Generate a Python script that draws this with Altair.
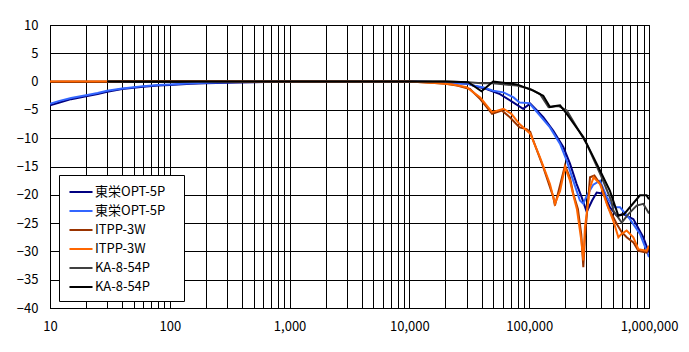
import altair as alt
import pandas as pd

# ---- data ----
SERIES = ["東栄OPT-5P#1", "東栄OPT-5P#2", "ITPP-3W#1", "ITPP-3W#2", "KA-8-54P#1", "KA-8-54P#2"]
COLORS = ["#000080", "#3366FF", "#993300", "#FF6600", "#404040", "#000000"]

F_OPT1 = [10, 12, 15, 20, 25, 30, 40, 50, 60, 80, 100, 150, 200, 300, 500, 1000, 2000, 5000, 10000,
          20000, 25000, 31000, 34000, 44000, 57000, 74000, 89000, 102000, 115000, 131000, 159000,
          193000, 219000, 249000, 275000, 302000, 335000, 366000, 416000, 472000, 537000, 611000,
          741000, 895000, 986000, 1000000]
V_OPT1 = [-4.2, -3.7, -3.1, -2.6, -2.2, -1.8, -1.3, -1.1, -0.9, -0.7, -0.6, -0.4, -0.3, -0.2, -0.1, 0, 0, 0, 0,
          -0.1, -0.3, -0.4, -0.7, -1.3, -2.2, -3.7, -4.8, -3.9, -5.0, -6.3, -8.7,
          -11.6, -14.5, -18.1, -20.5, -23.0, -21.0, -19.6, -19.8, -22.2, -23.7, -23.4,
          -24.3, -27.5, -29.9, -30.2]

F_OPT2 = [10, 12, 15, 20, 25, 30, 40, 50, 60, 80, 100, 150, 200, 300, 500, 1000, 2000, 5000, 10000,
          20000, 25000, 31000, 34000, 41000, 50000, 61000, 74000, 83000, 100000, 110000, 123000, 149000,
          181000, 206000, 233000, 265000, 283000, 300000, 343000, 390000, 444000, 504000, 573000,
          693000, 841000, 1000000]
V_OPT2 = [-3.9, -3.4, -2.9, -2.4, -2.0, -1.6, -1.2, -1.0, -0.8, -0.6, -0.5, -0.3, -0.2, -0.1, 0, 0, 0, 0, 0,
          -0.1, -0.3, -0.4, -0.7, -1.0, -1.6, -1.9, -2.8, -3.7, -3.8, -4.8, -6.0, -8.1,
          -11.0, -14.0, -17.5, -21.0, -21.6, -20.3, -18.2, -17.5, -20.4, -22.2, -22.2,
          -24.3, -26.9, -31.0]

F_ITPP1 = [10, 20, 30, 50, 100, 200, 500, 1000, 5000, 10000, 15000, 20000, 25000, 32000, 39000, 49000,
           59000, 69000, 83000, 95000, 102000, 108000, 131000, 159000, 164000, 199000, 219000, 233000,
           255000, 272000, 283000, 292000, 310000, 322000, 350000, 400000, 457000, 537000, 592000,
           651000, 740000, 815000, 955000, 1000000]
V_ITPP1 = [0, 0, 0, 0.1, 0.1, 0.1, 0, 0, 0, 0, -0.2, -0.4, -0.7, -1.3, -3.1, -5.7,
           -5.1, -6.3, -8.1, -8.4, -8.9, -10.4, -15.1, -20.4, -21.9, -14.8, -17.0, -19.8,
           -22.5, -27.0, -32.8, -27.5, -21.0, -16.9, -16.6, -18.4, -22.2, -25.1, -26.6,
           -27.5, -28.4, -29.9, -30.2, -29.3]

F_ITPP2 = [10, 20, 30, 50, 100, 200, 500, 1000, 5000, 10000, 15000, 18000, 23000, 30000, 39000, 49000,
           61000, 71000, 83000, 102000, 123000, 149000, 164000, 181000, 199000, 219000, 233000, 250000,
           272000, 283000, 292000, 322000, 345000, 390000, 444000, 504000, 555000, 592000, 651000,
           740000, 815000, 955000, 1000000]
V_ITPP2 = [0, 0, 0, 0.1, 0.1, 0.1, 0, 0, 0, 0, -0.2, -0.3, -0.5, -1.0, -2.8, -5.4,
           -4.8, -5.7, -7.5, -9.2, -13.4, -18.1, -21.6, -19.3, -15.1, -17.5, -20.0, -22.5,
           -28.0, -31.6, -25.7, -18.7, -16.9, -18.1, -21.6, -24.6, -27.5, -26.9, -26.3,
           -27.5, -29.6, -29.9, -29.0]

F_KA1 = [30, 50, 100, 200, 500, 1000, 5000, 10000, 20000, 31000, 40000, 50000, 79000, 102000, 123000,
         145000, 160000, 175000, 206000, 302000, 403000, 487000, 504000, 592000, 673000, 789000, 895000,
         986000, 1000000]
V_KA1 = [0, 0, 0, 0, 0, 0, 0, 0, 0, -0.1, -0.3, -0.3, -0.7, -1.3, -2.2,
         -4.5, -4.4, -4.3, -5.1, -11.0, -16.9, -21.2, -22.8, -24.9, -23.4, -21.9, -21.6,
         -23.1, -23.3]

F_KA2 = [30, 50, 100, 200, 500, 1000, 5000, 10000, 20000, 31000, 40000, 50000, 79000, 108000, 131000,
         149000, 165000, 181000, 206000, 283000, 390000, 472000, 555000, 620000, 693000, 841000, 955000,
         1000000]
V_KA2 = [0, 0, 0, 0, 0, 0, 0, 0, 0, -0.1, -1.7, 0, -0.5, -1.6, -2.5,
         -4.5, -4.3, -4.2, -5.7, -9.8, -15.7, -19.3, -23.7, -23.4, -22.2, -20.1, -20.1,
         -20.8]

Y_TICKS = [-40, -35, -30, -25, -20, -15, -10, -5, 0, 5, 10]
X_GRID = [m * 10 ** e for e in range(1, 6) for m in range(1, 10)] + [1000000]
X_LABELS = [10, 100, 1000, 10000, 100000, 1000000]

rows = []
for name, fs, vs in zip(SERIES, [F_OPT1, F_OPT2, F_ITPP1, F_ITPP2, F_KA1, F_KA2],
                        [V_OPT1, V_OPT2, V_ITPP1, V_ITPP2, V_KA1, V_KA2]):
    for i, (f, v) in enumerate(zip(fs, vs)):
        rows.append({"series": name, "f": f, "db": v, "order": i})
df = pd.DataFrame(rows)

FONT = "Noto Sans CJK JP"

chart = alt.Chart(df).mark_line(strokeWidth=2, clip=True).encode(
    x=alt.X("f:Q",
            scale=alt.Scale(type="log", domain=[10, 1000000], nice=False),
            axis=alt.Axis(values=X_GRID, title=None, format=",", grid=True, ticks=False, tickSize=0,
                          labelExpr="indexof(%s, datum.value) >= 0 ? datum.label : ''" % X_LABELS,
                          labelOverlap=False, labelFlush=False, labelPadding=12)),
    y=alt.Y("db:Q",
            scale=alt.Scale(domain=[-40, 10], nice=False, zero=False),
            axis=alt.Axis(values=Y_TICKS, title=None, grid=True, ticks=False, tickSize=0,
                          labelPadding=12)),
    color=alt.Color("series:N",
                    scale=alt.Scale(domain=SERIES, range=COLORS),
                    legend=alt.Legend(
                        title=None, orient="none", legendX=9, legendY=150,
                        symbolType="M-1.33,0H1.33", symbolSize=300, symbolStrokeWidth=2,
                        symbolOffset=5, labelOffset=4, rowPadding=2, padding=7,
                        strokeColor="black", fillColor="white",
                        labelFont=FONT, labelFontSize=13, labelColor="black",
                        labelExpr="split(datum.label, '#')[0] + '\u2002\u2009\u2009\u200b'")),
    order="order:Q",
).properties(
    width=599, height=283,
    autosize=alt.AutoSizeParams(type="none"),
    padding={"left": 42, "top": 17, "right": 32, "bottom": 36},
).configure_axis(
    gridColor="black", gridWidth=1, gridOpacity=1,
    domainColor="black", domainWidth=1,
    labelFont=FONT, labelFontSize=13, labelColor="black",
).configure_view(stroke="black", strokeWidth=1)

chart.save("out.html", embed_options={"renderer": "svg", "actions": False})
